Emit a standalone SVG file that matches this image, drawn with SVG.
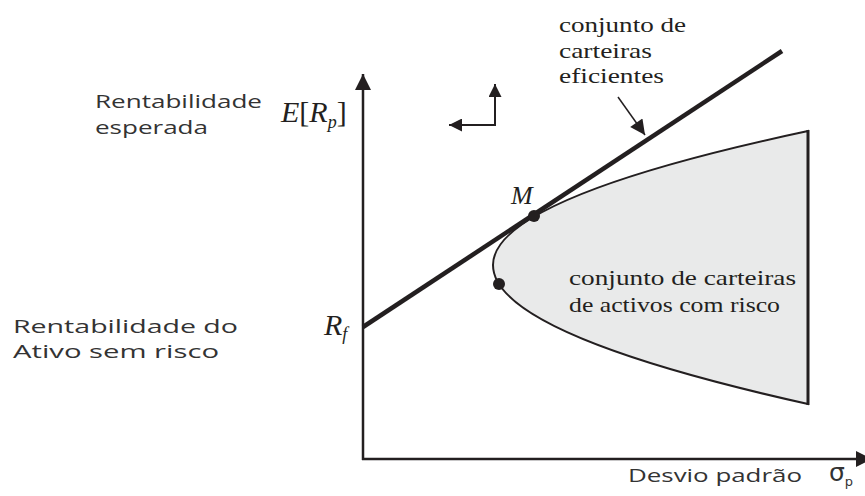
<svg xmlns="http://www.w3.org/2000/svg" width="865" height="496" viewBox="0 0 865 496">
<style>
.sans{font-family:"Open Sans","DejaVu Sans",sans-serif;font-size:18.5px;fill:#333}
.serif{font-family:"Liberation Serif","Times New Roman",serif;font-size:21px;fill:#231f20}
.math{font-family:"Liberation Serif","Times New Roman",serif;font-style:italic;fill:#231f20}
.ax{stroke:#231f20;stroke-width:2.5;fill:none}
</style>
<defs>
<marker id="ah" viewBox="0 0 10 10" refX="10" refY="5" markerWidth="6.5" markerHeight="6.5" markerUnits="strokeWidth" orient="auto">
<path d="M0,0 L10,5 L0,10 Z" fill="#231f20"/>
</marker>
<marker id="ahs" viewBox="0 0 10 10" refX="10" refY="5" markerWidth="12" markerHeight="10" markerUnits="strokeWidth" orient="auto">
<path d="M0,0 L10,5 L0,10 Z" fill="#231f20"/>
</marker>
</defs>
<g id="region">
<path d="M808,131 Q493,198 493,265 Q493,334 808,404 Z" fill="#e9eaea" stroke="#231f20" stroke-width="2"/>
<line x1="808" y1="130" x2="808" y2="405" stroke="#231f20" stroke-width="3"/>
</g>
<g id="connectors">
<line class="ax" x1="363" y1="460" x2="363" y2="74" marker-end="url(#ah)"/>
<line class="ax" x1="362" y1="459" x2="872" y2="459" marker-end="url(#ah)"/>
<line x1="363" y1="327" x2="782" y2="51" stroke="#231f20" stroke-width="4.5"/>
<line x1="495" y1="125" x2="495" y2="84" stroke="#231f20" stroke-width="2" marker-end="url(#ah)"/>
<line x1="496" y1="125" x2="449" y2="125" stroke="#231f20" stroke-width="2" marker-end="url(#ah)"/>
<line x1="618" y1="97" x2="645" y2="135" stroke="#231f20" stroke-width="1.5" marker-end="url(#ahs)"/>
</g>
<g id="points">
<circle cx="534" cy="216" r="6" fill="#231f20"/>
<circle cx="499" cy="284" r="6" fill="#231f20"/>
</g>
<g id="labels">
<text class="sans" x="95" y="108" textLength="167" lengthAdjust="spacingAndGlyphs">Rentabilidade</text>
<text class="sans" x="95" y="134" textLength="113" lengthAdjust="spacingAndGlyphs">esperada</text>
<text class="sans" x="13" y="333" textLength="225" lengthAdjust="spacingAndGlyphs">Rentabilidade do</text>
<text class="sans" x="13" y="358" textLength="206" lengthAdjust="spacingAndGlyphs">Ativo sem risco</text>
<text class="sans" x="628" y="482" textLength="174" lengthAdjust="spacingAndGlyphs">Desvio padrão</text>
<text class="math" x="281" y="122" font-size="30"><tspan>E</tspan><tspan font-style="normal">[</tspan>R<tspan font-size="18" dy="6">p</tspan><tspan font-style="normal" dy="-6">]</tspan></text>
<text class="math" x="511" y="204" font-size="26">M</text>
<text class="math" x="324" y="335" font-size="30">R<tspan font-size="18" dy="5">f</tspan></text>
<text x="829" y="481" font-family="DejaVu Sans,sans-serif" font-size="25" fill="#333">σ<tspan font-size="13" dy="5">p</tspan></text>
<text class="serif" x="559" y="32" textLength="127" lengthAdjust="spacingAndGlyphs">conjunto de</text>
<text class="serif" x="559" y="58" textLength="93" lengthAdjust="spacingAndGlyphs">carteiras</text>
<text class="serif" x="559" y="83" textLength="105" lengthAdjust="spacingAndGlyphs">eficientes</text>
<text class="serif" x="569" y="285" font-size="22" textLength="227" lengthAdjust="spacingAndGlyphs">conjunto de carteiras</text>
<text class="serif" x="569" y="312" font-size="22" textLength="211" lengthAdjust="spacingAndGlyphs">de activos com risco</text>
</g>
</svg>
